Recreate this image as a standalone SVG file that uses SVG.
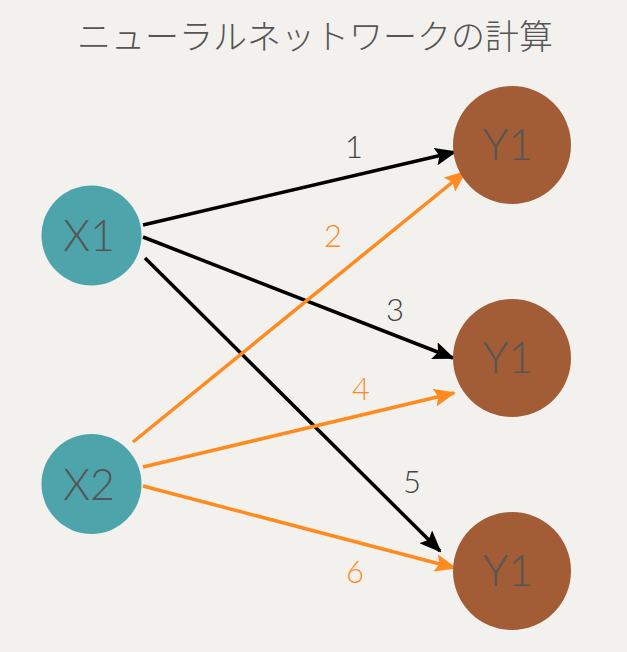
<svg xmlns="http://www.w3.org/2000/svg" width="627" height="652" viewBox="0 0 627 652">
<style>
.t{font-family:"Liberation Sans","Noto Sans CJK JP",sans-serif;fill:#555}
.n{font-family:"Lato","Liberation Sans",sans-serif;font-weight:300;font-size:43px;text-anchor:middle}
.lb{font-family:"Lato","Liberation Sans",sans-serif;font-weight:300;font-size:31px;text-anchor:middle}
.k{stroke:#000;stroke-width:3.5;fill:none}
.o{stroke:#ff8a1f;stroke-width:3.5;fill:none}
</style>
<defs>
<marker id="ak" markerUnits="userSpaceOnUse" markerWidth="22" markerHeight="18" refX="20" refY="9" orient="auto" viewBox="0 0 22 18"><path d="M0,0 L22,9 L0,18 L4,9 Z" fill="#000"/></marker>
<marker id="ao" markerUnits="userSpaceOnUse" markerWidth="22" markerHeight="18" refX="20" refY="9" orient="auto" viewBox="0 0 22 18"><path d="M0,0 L22,9 L0,18 L4,9 Z" fill="#ff8a1f"/></marker>
</defs>
<rect width="627" height="652" fill="#f2f1ee"/>
<text x="315" y="49" font-family="'Noto Sans CJK JP',sans-serif" font-weight="300" font-size="34" fill="#555" text-anchor="middle">ニューラルネットワークの計算</text>
<g id="connectors">
<line class="k" x1="143" y1="225" x2="455" y2="152" marker-end="url(#ak)"/>
<line class="k" x1="143" y1="237" x2="453" y2="358" marker-end="url(#ak)"/>
<line class="k" x1="145" y1="258" x2="440" y2="551" marker-end="url(#ak)"/>
<line class="o" x1="133" y1="442" x2="465" y2="172" marker-end="url(#ao)"/>
<line class="o" x1="143" y1="467" x2="454" y2="393" marker-end="url(#ao)"/>
<line class="o" x1="143" y1="486" x2="455" y2="568" marker-end="url(#ao)"/>
<text class="lb" x="354" y="158" fill="#444">1</text>
<text class="lb" x="333" y="247" fill="#ff8a1f">2</text>
<text class="lb" x="395" y="321" fill="#444">3</text>
<text class="lb" x="361" y="400" fill="#ff8a1f">4</text>
<text class="lb" x="412" y="493" fill="#444">5</text>
<text class="lb" x="355" y="583" fill="#ff8a1f">6</text>
</g>
<g id="x1"><circle cx="91.5" cy="235.5" r="50" fill="#4ea4ab"/><text class="t n" x="89" y="251">X1</text></g>
<g id="x2"><circle cx="91.5" cy="484" r="50" fill="#4ea4ab"/><text class="t n" x="89" y="500">X2</text></g>
<g id="y1a"><circle cx="512" cy="145" r="59" fill="#a25c36"/><text class="t n" x="508" y="160">Y1</text></g>
<g id="y1b"><circle cx="512" cy="358" r="59" fill="#a25c36"/><text class="t n" x="508" y="373">Y1</text></g>
<g id="y1c"><circle cx="512" cy="571" r="59" fill="#a25c36"/><text class="t n" x="508" y="586">Y1</text></g>
</svg>
